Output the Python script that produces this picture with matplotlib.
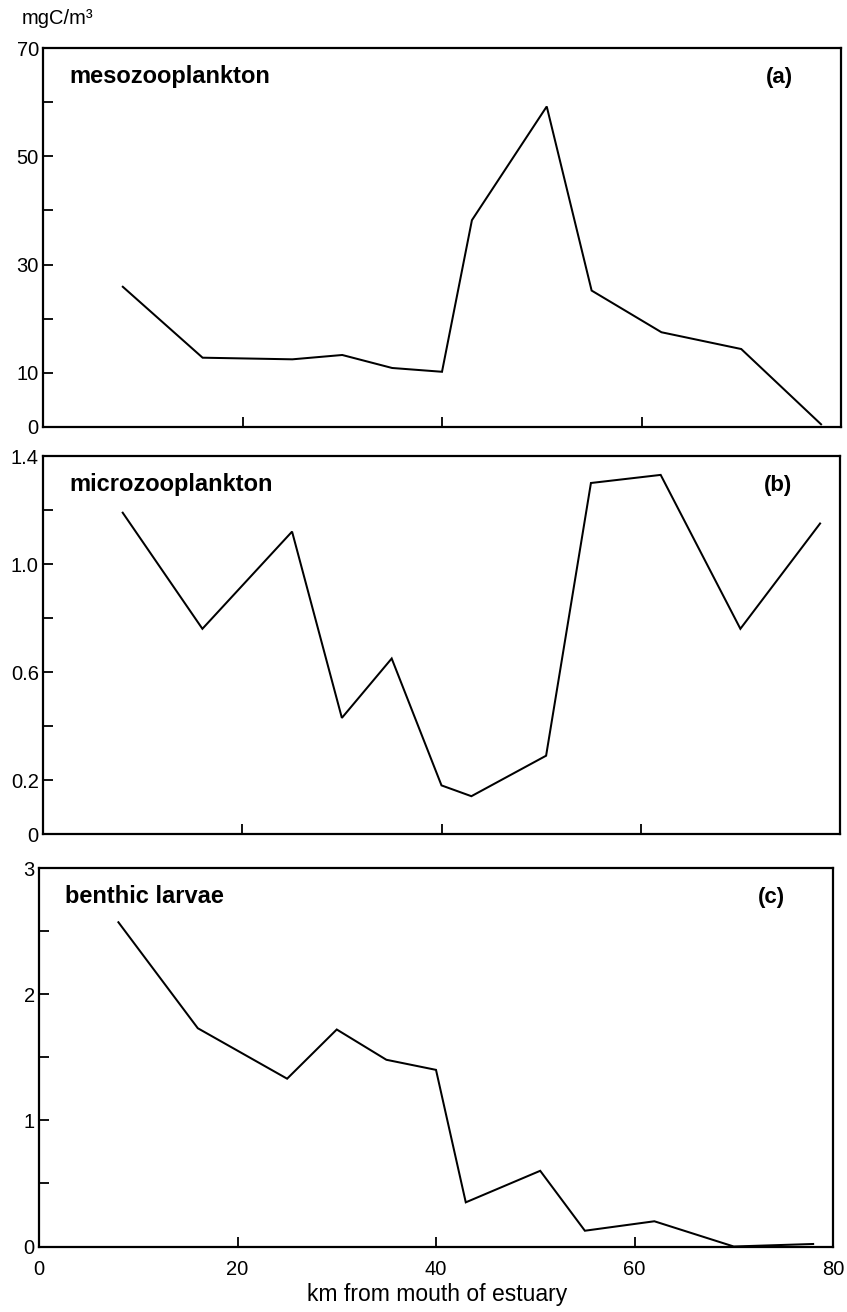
import matplotlib
matplotlib.use("Agg")
import matplotlib.pyplot as plt
import numpy as np

plt.rcParams['font.family'] = ['Liberation Sans', 'DejaVu Sans']

# Sampling stations (km from mouth of estuary)
distance_km = [8, 16, 25, 30, 35, 40, 43, 50.5, 55, 62, 70, 78]

# Biomass (mgC/m3) at each station
mesozooplankton = [25.9, 12.8, 12.5, 13.3, 10.9, 10.2, 38.2, 59.2, 25.2, 17.5, 14.4, 0.5]
microzooplankton = [1.19, 0.76, 1.12, 0.43, 0.65, 0.18, 0.14, 0.29, 1.30, 1.33, 0.76, 1.15]
benthic_larvae = [2.57, 1.73, 1.33, 1.72, 1.48, 1.40, 0.35, 0.60, 0.125, 0.20, 0.0, 0.02]

panel_names = ["mesozooplankton", "microzooplankton", "benthic larvae"]
panel_tags = ["(a)", "(b)", "(c)"]

# y-axis: all tick positions and which are labelled
yticks_a = [0, 10, 20, 30, 40, 50, 60, 70]
ylabels_a = ["0", "10", "", "30", "", "50", "", "70"]
yticks_b = [0, 0.2, 0.4, 0.6, 0.8, 1.0, 1.2, 1.4]
ylabels_b = ["0", "0.2", "", "0.6", "", "1.0", "", "1.4"]
yticks_c = [0, 0.5, 1, 1.5, 2, 2.5, 3]
ylabels_c = ["0", "", "1", "", "2", "", "3"]
xticks = [0, 20, 40, 60, 80]
xlabels = ["0", "20", "40", "60", "80"]

W, H = 847, 1312
fig = plt.figure(figsize=(W / 100, H / 100), dpi=100)


def box(left, right, top, bottom):
    return [left / W, 1 - bottom / H, (right - left) / W, (bottom - top) / H]


boxes = [box(43, 841, 48, 427), box(43, 840, 456, 834), box(39, 833, 868, 1246.5)]
series = [mesozooplankton, microzooplankton, benthic_larvae]
ylims = [(0, 70), (0, 1.4), (0, 3)]
yt = [(yticks_a, ylabels_a), (yticks_b, ylabels_b), (yticks_c, ylabels_c)]

for i, (rect, vals, ylim, (ticks, labels)) in enumerate(zip(boxes, series, ylims, yt)):
    ax = fig.add_axes(rect)
    ax.plot(distance_km, vals, color="black", lw=1.45, solid_joinstyle="miter")
    ax.set_xlim(0, 80)
    ax.set_ylim(*ylim)
    ax.set_yticks(ticks)
    ax.set_yticklabels(labels)
    ax.set_xticks(xticks)
    if i == 2:
        ax.set_xticklabels(xlabels)
    else:
        ax.set_xticklabels([])
    ax.tick_params(axis="both", direction="in", length=7, width=1.3,
                   labelsize=14.5, colors="black")
    ax.tick_params(axis="y", pad=3)
    ax.tick_params(axis="x", pad=10)
    for sp in ax.spines.values():
        sp.set_linewidth(1.6)
        sp.set_color("black")
    ax.text(0.033, 0.924, panel_names[i], transform=ax.transAxes,
            fontsize=17, fontweight="bold", ha="left", va="center")
    ax.text(0.94, 0.921, panel_tags[i], transform=ax.transAxes,
            fontsize=16, fontweight="bold", ha="right", va="center")

fig.text(22 / W, 1 - 19 / H, "mgC/m³", fontsize=14.5, ha="left", va="center")
fig.text(437 / W, 1 - 1294 / H, "km from mouth of estuary", fontsize=16.5,
         ha="center", va="center")

fig.savefig("out.png", dpi=100, facecolor="white")
